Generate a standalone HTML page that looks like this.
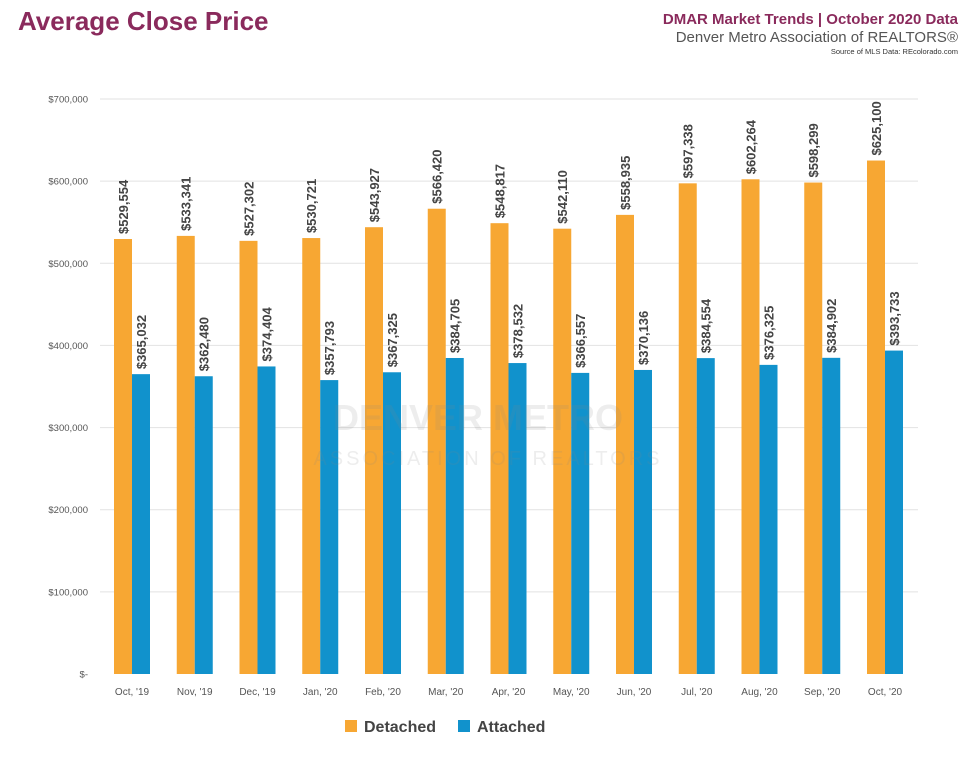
<!DOCTYPE html><html><head><meta charset="utf-8"><style>body{margin:0;background:#fff}svg{display:block}text{font-family:"Liberation Sans",sans-serif}</style></head><body>
<svg width="972" height="759" xmlns="http://www.w3.org/2000/svg">
<rect width="972" height="759" fill="#fff"/>
<text x="18" y="30" font-size="26" font-weight="bold" fill="#8a2a5c">Average Close Price</text>
<text x="958" y="24" font-size="15" font-weight="bold" fill="#8a2a5c" text-anchor="end">DMAR Market Trends | October 2020 Data</text>
<text x="958" y="42" font-size="15" fill="#555" text-anchor="end">Denver Metro Association of REALTORS®</text>
<text x="958" y="54" font-size="7.5" fill="#333" text-anchor="end">Source of MLS Data: REcolorado.com</text>
<g id="grid" stroke="#e2e2e2" stroke-width="1"></g>
<g id="bars"></g>
<text x="478" y="430" font-size="36" font-weight="bold" fill="#888" fill-opacity="0.15" text-anchor="middle">DENVER METRO</text>
<text x="488" y="465" font-size="20" fill="#888" fill-opacity="0.15" text-anchor="middle" letter-spacing="3">ASSOCIATION OF REALTORS</text>
<rect x="345" y="720" width="12" height="12" fill="#f7a733"/>
<text x="364" y="732" font-size="16" font-weight="bold" fill="#444">Detached</text>
<rect x="458" y="720" width="12" height="12" fill="#1192cc"/>
<text x="477" y="732" font-size="16" font-weight="bold" fill="#444">Attached</text>
</svg>
<script>
var svg=document.querySelector('svg'),g=document.getElementById('grid'),b=document.getElementById('bars');
var ns='http://www.w3.org/2000/svg';
function el(t,a,p,txt){var e=document.createElementNS(ns,t);for(var k in a)e.setAttribute(k,a[k]);if(txt)e.textContent=txt;p.appendChild(e);return e;}
function Y(v){return 674-v*575/700000;}
var yl=['$-','$100,000','$200,000','$300,000','$400,000','$500,000','$600,000','$700,000'];
for(var i=0;i<8;i++){var y=Y(i*100000);if(i>0)el('line',{x1:100,x2:918,y1:y,y2:y},g);el('text',{x:88,y:y+3.5,'font-size':9.5,fill:'#555','text-anchor':'end'},b,yl[i]);}
var cats=["Oct, '19","Nov, '19","Dec, '19","Jan, '20","Feb, '20","Mar, '20","Apr, '20","May, '20","Jun, '20","Jul, '20","Aug, '20","Sep, '20","Oct, '20"];
var d=[529554,533341,527302,530721,543927,566420,548817,542110,558935,597338,602264,598299,625100];
var a=[365032,362480,374404,357793,367325,384705,378532,366557,370136,384554,376325,384902,393733];
function f(v){return '$'+v.toLocaleString('en-US');}
for(var i=0;i<13;i++){var c=132+i*62.75;
el('rect',{x:c-18,y:Y(d[i]),width:18,height:674-Y(d[i]),fill:'#f7a733'},b);
el('rect',{x:c,y:Y(a[i]),width:18,height:674-Y(a[i]),fill:'#1192cc'},b);
[[c-9,d[i]],[c+9,a[i]]].forEach(function(p){var x=p[0]+5,y=Y(p[1])-5;el('text',{x:x,y:y,'font-size':13,'font-weight':'bold',fill:'#444',transform:'rotate(-90 '+x+' '+y+')'},b,f(p[1]));});
el('text',{x:c,y:695,'font-size':10,fill:'#555','text-anchor':'middle'},b,cats[i]);}
</script>
</body></html>
